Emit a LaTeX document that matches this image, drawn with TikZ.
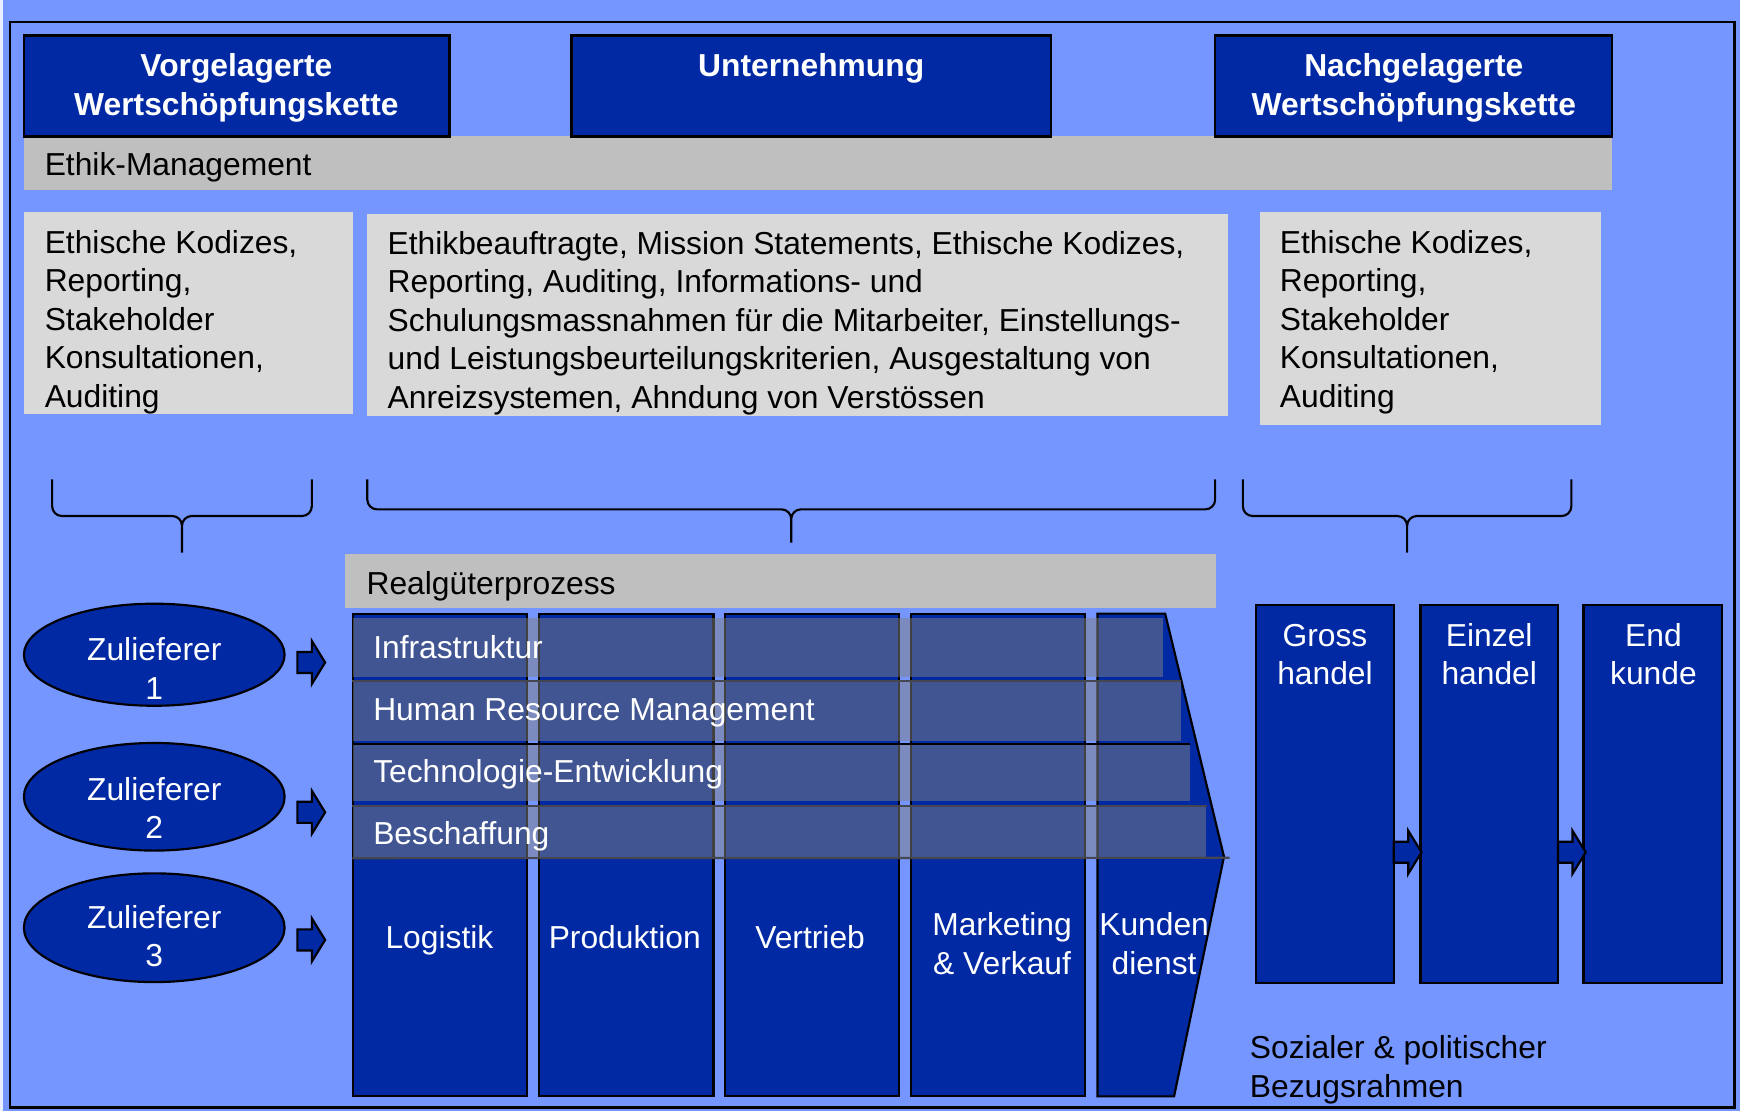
\documentclass[tikz,border=0pt]{standalone}
\usepackage{fontspec}
\setmainfont{Liberation Sans}
\usepackage{tikz}
\usetikzlibrary{shapes.geometric, fit, positioning}
\definecolor{bgblue}{RGB}{117,150,255}
\definecolor{vcblue}{RGB}{0,41,163}
\definecolor{bargrey}{RGB}{191,191,191}
\definecolor{notegrey}{RGB}{217,217,217}
\definecolor{supgrey}{RGB}{130,130,130}
\definecolor{supline}{RGB}{70,70,80}
\newcommand{\vcfont}{\fontsize{16.3}{19.75}\selectfont}
\tikzset{
  hdrbox/.style={rectangle, draw=black, fill=vcblue, line width=1.1pt, inner sep=0pt},
  greybar/.style={rectangle, fill=bargrey, inner sep=0pt},
  notebox/.style={rectangle, fill=notegrey, inner sep=0pt},
  colbox/.style={rectangle, draw=black, fill=vcblue, line width=1.1pt, inner sep=0pt},
  supbar/.style={rectangle, fill=supgrey, fill opacity=0.5, inner sep=0pt},
  supplier/.style={ellipse, draw=black, fill=vcblue, line width=1.1pt,
    minimum width=4.7cm, minimum height=1.9cm, inner sep=0pt},
  hdrtext/.style={font=\vcfont\bfseries, text=white, align=center, inner sep=0pt, anchor=base},
  whitetext/.style={font=\vcfont, text=white, align=center, inner sep=0pt, anchor=base},
  darktext/.style={font=\vcfont, text=black, align=left, inner sep=0pt, anchor=base west},
  brace/.style={line width=1.1pt, rounded corners=5pt},
  blockarrow/.pic={\draw[fill=vcblue, line width=1.1pt, line join=miter]
    (0,-9.5) -- (13,-9.5) -- (13,-19.5) -- (25,0) -- (13,19.5) -- (13,9.5) -- (0,9.5) -- cycle;}
}

\begin{document}
\begin{tikzpicture}[x=0.02cm, y=-0.02cm]
  \useasboundingbox (0,0) rectangle (1568,1001);
  \fill[bgblue] (0,0) rectangle (1568,1001);
  \fill[white!85!bgblue] (0,0) rectangle (3,1001);
  \draw[line width=1.1pt] (9,20) rectangle (1563,998);

  % Ethik-Management (base anchor = last line)
  \node[greybar, fit={(22,123) (1453,171)}] (ethik) {};
  \node[hdrbox, fit={(22,32) (405,123)}] (vor) {};
  \node[hdrbox, fit={(515,32) (947,123)}] (unt) {};
  \node[hdrbox, fit={(1095,32) (1453,123)}] (nach) {};
  \node[hdrtext] (vortxt) at (213,104) {Vorgelagerte\\Wertschöpfungskette};
  \node[hdrtext] (unttxt) at (731,69) {Unternehmung};
  \node[hdrtext] (nachtxt) at (1274,104) {Nachgelagerte\\Wertschöpfungskette};
  \node[darktext] (ethiktxt) at (40,158) {Ethik-Management};

  % Instrumente
  \node[notebox, fit={(22,191) (318,373)}] (instvor) {};
  \node[notebox, fit={(331,193) (1107,375)}] (instunt) {};
  \node[notebox, fit={(1135,191) (1443,383)}] (instnach) {};
  \node[darktext] (instvortxt) at (40,367)
    {Ethische Kodizes,\\Reporting,\\Stakeholder\\Konsultationen,\\Auditing};
  \node[darktext] (instunttxt) at (349,368)
    {Ethikbeauftragte, Mission Statements, Ethische Kodizes,\\
     Reporting, Auditing, Informations- und\\
     Schulungsmassnahmen für die Mitarbeiter, Einstellungs-\\
     und Leistungsbeurteilungskriterien, Ausgestaltung von\\
     Anreizsystemen, Ahndung von Verstössen};
  \node[darktext] (instnachtxt) at (1153,367)
    {Ethische Kodizes,\\Reporting,\\Stakeholder\\Konsultationen,\\Auditing};

  % Klammern
  \draw[brace] (47,432) |- (164,465) -- (164,498) (281,432) |- (164,465) -- (164,498);
  \draw[brace] (331,432) |- (713,459) -- (713,489) (1095,432) |- (713,459) -- (713,489);
  \draw[brace] (1120,432) |- (1268,465) -- (1268,498) (1416,432) |- (1268,465) -- (1268,498);

  % Realgueterprozess
  \node[greybar, fit={(311,499) (1096,548)}] (real) {};
  \node[darktext] (realtxt) at (330,536) {Realgüterprozess};
  \node[colbox, fit={(318,553) (475,988)}] (logistik) {};
  \node[colbox, fit={(486,553) (643,988)}] (produktion) {};
  \node[colbox, fit={(653,553) (810,988)}] (vertrieb) {};
  \node[colbox, fit={(821,553) (978,988)}] (marketing) {};
  \draw[fill=vcblue, line width=1.1pt, line join=miter]
    (989,553) -- (1050,553) -- (1103,772) -- (1058,988) -- (989,988) -- cycle;
  \node[supbar, fit={(318,557) (1048,610)}] (infra) {};
  \node[supbar, fit={(318,614) (1064,668)}] (hrm) {};
  \node[supbar, fit={(318,671) (1072,722)}] (tech) {};
  \node[supbar, fit={(318,727) (1087,773)}] (besch) {};
  \draw[line width=1.1pt, supline] (hrm.north west) -- (hrm.north east);
  \draw[line width=1.1pt, black] (tech.north west) -- (tech.north east);
  \draw[line width=1.1pt, supline] (besch.north west) -- (besch.north east);
  \draw[line width=1.1pt, supline] (besch.south west) -- (1108,773);
  \node[whitetext, anchor=base west] (infratxt) at (336,593) {Infrastruktur};
  \node[whitetext, anchor=base west] (hrmtxt) at (336,649) {Human Resource Management};
  \node[whitetext, anchor=base west] (techtxt) at (336,705) {Technologie-Entwicklung};
  \node[whitetext, anchor=base west] (beschtxt) at (336,761) {Beschaffung};
  \node[whitetext] (logistiktxt) at (396,855) {Logistik};
  \node[whitetext] (produktiontxt) at (563,855) {Produktion};
  \node[whitetext] (vertriebtxt) at (730,855) {Vertrieb};
  \node[whitetext] (marketingtxt) at (903,878) {Marketing\\\& Verkauf};
  \node[whitetext] (kundentxt) at (1040,878) {Kunden\\dienst};

  % Zulieferer
  \node[supplier, minimum height=1.84cm] (zul1) at (139,590) {};
  \node[supplier, minimum height=1.94cm] (zul2) at (139,718) {};
  \node[supplier, minimum height=1.96cm] (zul3) at (139,836) {};
  \node[whitetext] (zul1txt) at (139,630) {Zulieferer\\1};
  \node[whitetext] (zul2txt) at (139,756) {Zulieferer\\2};
  \node[whitetext] (zul3txt) at (139,871) {Zulieferer\\3};
  \foreach \y/\n in {597/1, 732/2, 847/3}
    \pic (zularrow\n) at (268,\y) {blockarrow};

  % Handel
  \node[colbox, fit={(1132,545) (1256,886)}] (gross) {};
  \node[colbox, fit={(1280,545) (1404,886)}] (einzel) {};
  \node[colbox, fit={(1427,545) (1552,886)}] (end) {};
  \node[whitetext] (grosstxt) at (1194,617) {Gross\\handel};
  \node[whitetext] (einzeltxt) at (1342,617) {Einzel\\handel};
  \node[whitetext] (endtxt) at (1490,617) {End\\kunde};
  \pic (handelarrow1) at (1256,768) {blockarrow};
  \pic (handelarrow2) at (1404,768) {blockarrow};

  \node[darktext] (rahmentxt) at (1126,989) {Sozialer \& politischer\\Bezugsrahmen};
\end{tikzpicture}
\end{document}
